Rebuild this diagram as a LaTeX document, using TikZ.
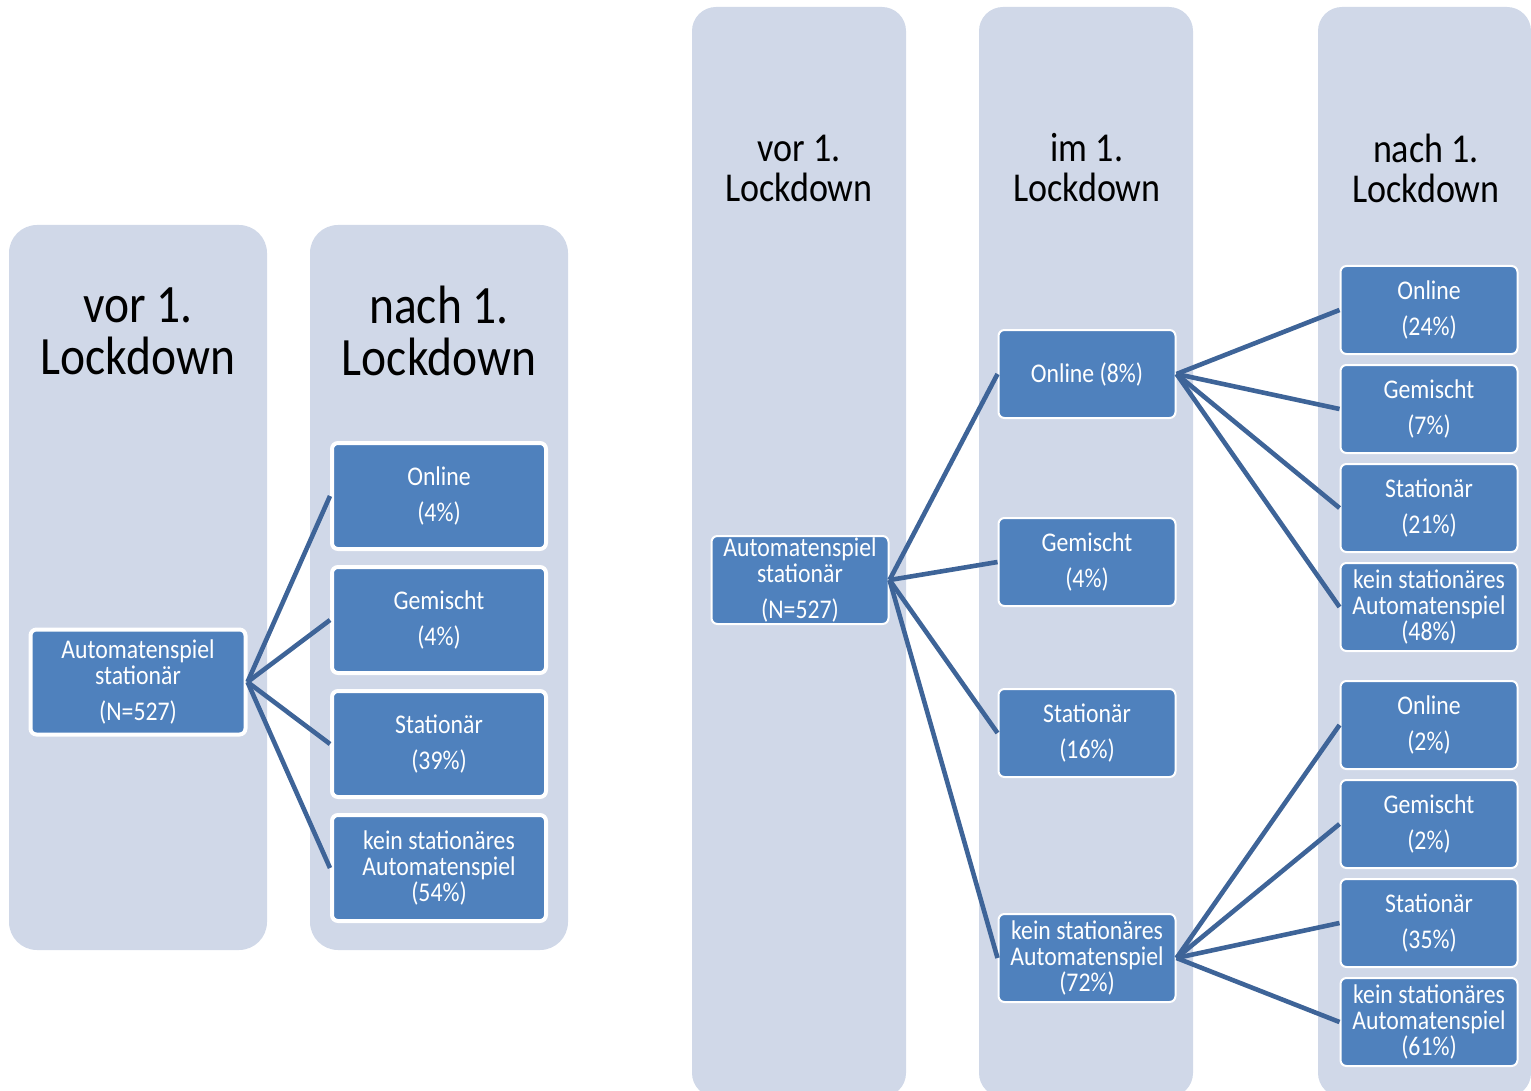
\documentclass[tikz,border=0pt]{standalone}
\usepackage{fontspec}
\setmainfont[FakeStretch=0.88]{Carlito}
\usepackage{tikz}
\usetikzlibrary{positioning}
\definecolor{phasebg}{RGB}{208,216,232}
\definecolor{boxbg}{RGB}{79,129,189}
\definecolor{linkc}{RGB}{62,100,152}
\tikzset{
    phase/.style={fill=phasebg, rounded corners=28pt},
    box/.style={draw=white, fill=boxbg, rounded corners=6pt, text=white, align=center, inner sep=0pt, font=\fontsize{27}{26}\selectfont},
    bigbox/.style={box, line width=4pt, minimum width=214pt, minimum height=106pt},
    smallbox/.style={box, line width=2pt, minimum width=177pt, minimum height=88pt},
    link/.style={draw=linkc, line width=4.6pt},
}

\begin{document}
\begin{tikzpicture}[x=1pt,y=-1pt]
\useasboundingbox (0,0) rectangle (1531,1091);
% phases, two columns
\fill[phase] (9,225) rectangle (267,950);
\fill[phase] (310,225) rectangle (568,950);
\node[align=center, font=\fontsize{54}{52}\selectfont] (tVor) at (138,331) {vor 1.\\Lockdown};
\node[align=center, font=\fontsize{54}{52}\selectfont] (tNach) at (439,331) {nach 1.\\Lockdown};
% phases, three columns
\begin{scope}
\clip (0,0) rectangle (1531,1091);
\fill[phase, rounded corners=24pt] (692,7) rectangle (906,1097);
\fill[phase, rounded corners=24pt] (979,7) rectangle (1193,1097);
\fill[phase, rounded corners=24pt] (1318,7) rectangle (1531,1097);
\end{scope}
\node[align=center, font=\fontsize{41}{40}\selectfont] (tVorB) at (799,168) {vor 1.\\Lockdown};
\node[align=center, font=\fontsize{41}{40}\selectfont] (tIm) at (1087,168) {im 1.\\Lockdown};
\node[align=center, font=\fontsize{41}{40}\selectfont] (tNachB) at (1426,168) {nach 1.\\Lockdown};

% vor -> nach
\node[bigbox, minimum width=215pt, minimum height=105pt] (a) at (138,682) {Automatenspiel\\stationär\\[10pt](N=527)};
\node[bigbox] (a1) at (439,496) {Online\\[10pt](4\%)};
\node[bigbox, below=14pt of a1] (a2) {Gemischt\\[10pt](4\%)};
\node[bigbox, below=14pt of a2] (a3) {Stationär\\[10pt](39\%)};
\node[bigbox, below=14pt of a3] (a4) {kein stationäres\\Automatenspiel\\(54\%)};
\foreach \i in {1,...,4}
    \draw[link] (a.east) -- (a\i.west);

% vor -> im -> nach
\node[smallbox] (b) at (800,580) {Automatenspiel\\stationär\\[10pt](N=527)};
\node[smallbox] (b1) at (1087,374) {Online (8\%)};
\node[smallbox] (b2) at (1087,562) {Gemischt\\[10pt](4\%)};
\node[smallbox] (b3) at (1087,733) {Stationär\\[10pt](16\%)};
\node[smallbox] (b4) at (1087,958) {kein stationäres\\Automatenspiel\\(72\%)};
\node[smallbox] (c1) at (1429,310) {Online\\[10pt](24\%)};
\node[smallbox, below=9pt of c1] (c2) {Gemischt\\[10pt](7\%)};
\node[smallbox, below=9pt of c2] (c3) {Stationär\\[10pt](21\%)};
\node[smallbox, below=9pt of c3] (c4) {kein stationäres\\Automatenspiel\\(48\%)};
\node[smallbox] (d1) at (1429,725) {Online\\[10pt](2\%)};
\node[smallbox, below=9pt of d1] (d2) {Gemischt\\[10pt](2\%)};
\node[smallbox, below=9pt of d2] (d3) {Stationär\\[10pt](35\%)};
\node[smallbox, below=9pt of d3] (d4) {kein stationäres\\Automatenspiel\\(61\%)};
\foreach \i in {1,...,4} {
    \draw[link] (b.east) -- (b\i.west);
    \draw[link] (b1.east) -- (c\i.west);
    \draw[link] (b4.east) -- (d\i.west);
}
\end{tikzpicture}
\end{document}
